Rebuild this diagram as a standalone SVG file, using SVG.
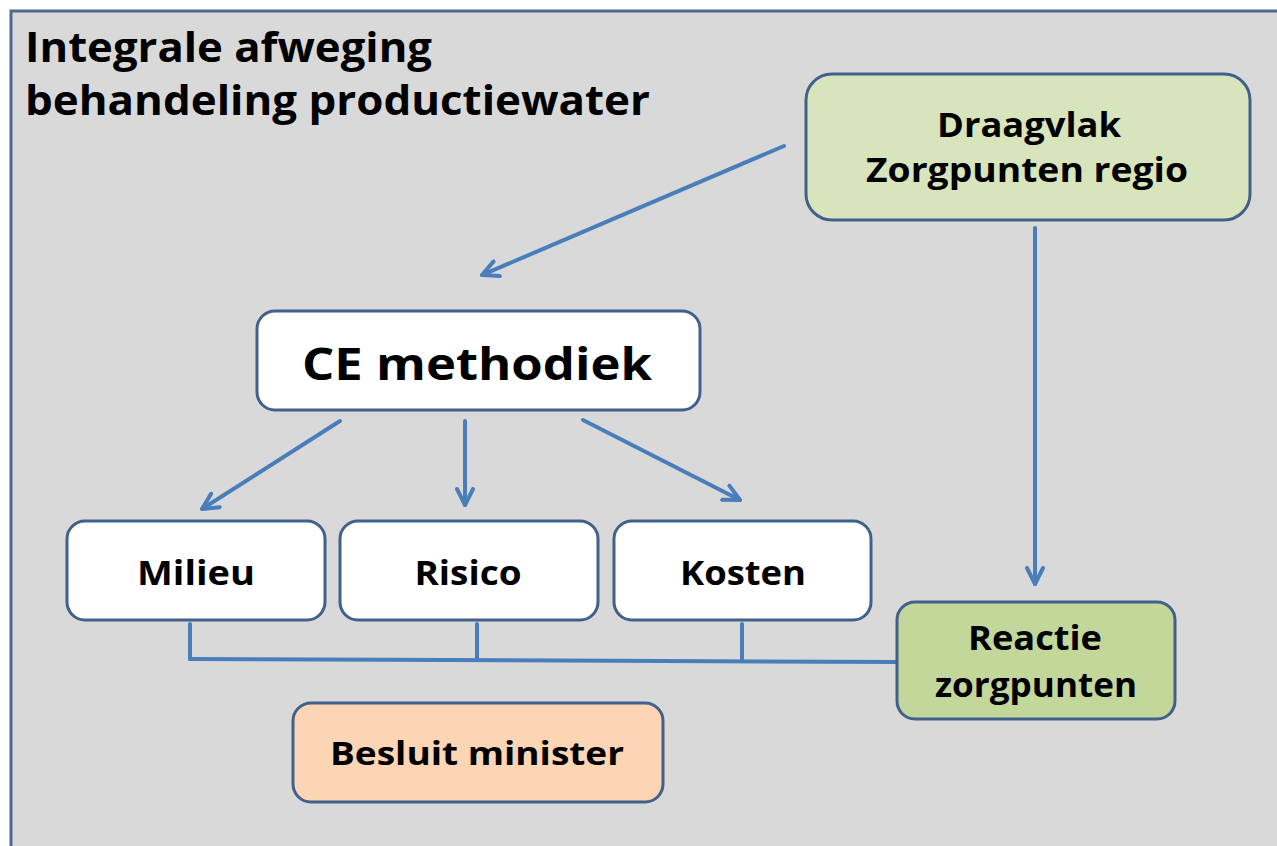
<svg xmlns="http://www.w3.org/2000/svg" width="1277" height="846" viewBox="0 0 1277 846">
<style>
  text { font-family: "Open Sans", Lato, "Liberation Sans", sans-serif; font-weight: bold; fill: #000; }
  .box { stroke: #41618a; stroke-width: 3; }
  .conn { stroke: #4a7ebb; stroke-width: 4; fill: none; stroke-linecap: round; }
</style>
<defs>
  <marker id="arr" viewBox="0 0 20 20" refX="18" refY="10" markerWidth="20" markerHeight="20" markerUnits="userSpaceOnUse" orient="auto">
    <path d="M2,2 L18,10 L2,18" fill="none" stroke="#4a7ebb" stroke-width="4" stroke-linecap="round" stroke-linejoin="round"/>
  </marker>
</defs>
<rect x="0" y="0" width="1277" height="846" fill="#ffffff"/>
<rect x="11" y="11" width="1280" height="845" fill="#d9d9d9" stroke="#4f6a8f" stroke-width="3"/>
<g id="title">
  <text x="25" y="62" font-size="41" textLength="407" lengthAdjust="spacingAndGlyphs">Integrale afweging</text>
  <text x="25" y="115" font-size="41" textLength="625" lengthAdjust="spacingAndGlyphs">behandeling productiewater</text>
</g>
<g id="connectors">
  <line class="conn" x1="784" y1="146" x2="482" y2="275" marker-end="url(#arr)"/>
  <line class="conn" x1="1035" y1="228" x2="1035" y2="584" marker-end="url(#arr)"/>
  <line class="conn" x1="340" y1="421" x2="202" y2="509" marker-end="url(#arr)"/>
  <line class="conn" x1="465" y1="421" x2="465" y2="505" marker-end="url(#arr)"/>
  <line class="conn" x1="583" y1="420" x2="740" y2="500" marker-end="url(#arr)"/>
  <line class="conn" x1="190" y1="624" x2="190" y2="659"/>
  <line class="conn" x1="477" y1="624" x2="477" y2="659"/>
  <line class="conn" x1="742" y1="624" x2="742" y2="660"/>
  <line class="conn" x1="190" y1="659" x2="897" y2="662"/>
</g>
<g id="draagvlak">
  <rect class="box" x="806" y="74" width="444" height="146" rx="26" fill="#d8e4bc"/>
  <text x="1029" y="137" font-size="34" text-anchor="middle" textLength="184" lengthAdjust="spacingAndGlyphs">Draagvlak</text>
  <text x="1027" y="182" font-size="34" text-anchor="middle" textLength="322" lengthAdjust="spacingAndGlyphs">Zorgpunten regio</text>
</g>
<g id="ce-methodiek">
  <rect class="box" x="257" y="311" width="443" height="99" rx="18" fill="#ffffff"/>
  <text x="477" y="380" font-size="45" text-anchor="middle" textLength="350" lengthAdjust="spacingAndGlyphs">CE methodiek</text>
</g>
<g id="milieu">
  <rect class="box" x="67" y="521" width="258" height="99" rx="18" fill="#ffffff"/>
  <text x="196" y="585" font-size="34" text-anchor="middle" textLength="118" lengthAdjust="spacingAndGlyphs">Milieu</text>
</g>
<g id="risico">
  <rect class="box" x="340" y="521" width="258" height="99" rx="18" fill="#ffffff"/>
  <text x="468" y="585" font-size="34" text-anchor="middle" textLength="107" lengthAdjust="spacingAndGlyphs">Risico</text>
</g>
<g id="kosten">
  <rect class="box" x="614" y="521" width="257" height="99" rx="18" fill="#ffffff"/>
  <text x="743" y="585" font-size="34" text-anchor="middle" textLength="126" lengthAdjust="spacingAndGlyphs">Kosten</text>
</g>
<g id="reactie">
  <rect class="box" x="897" y="602" width="278" height="117" rx="18" fill="#c4d79b"/>
  <text x="1035" y="650" font-size="34" text-anchor="middle" textLength="134" lengthAdjust="spacingAndGlyphs">Reactie</text>
  <text x="1036" y="697" font-size="34" text-anchor="middle" textLength="202" lengthAdjust="spacingAndGlyphs">zorgpunten</text>
</g>
<g id="besluit">
  <rect class="box" x="293" y="703" width="370" height="99" rx="18" fill="#fcd5b4"/>
  <text x="477" y="765" font-size="33" text-anchor="middle" textLength="294" lengthAdjust="spacingAndGlyphs">Besluit minister</text>
</g>
</svg>
